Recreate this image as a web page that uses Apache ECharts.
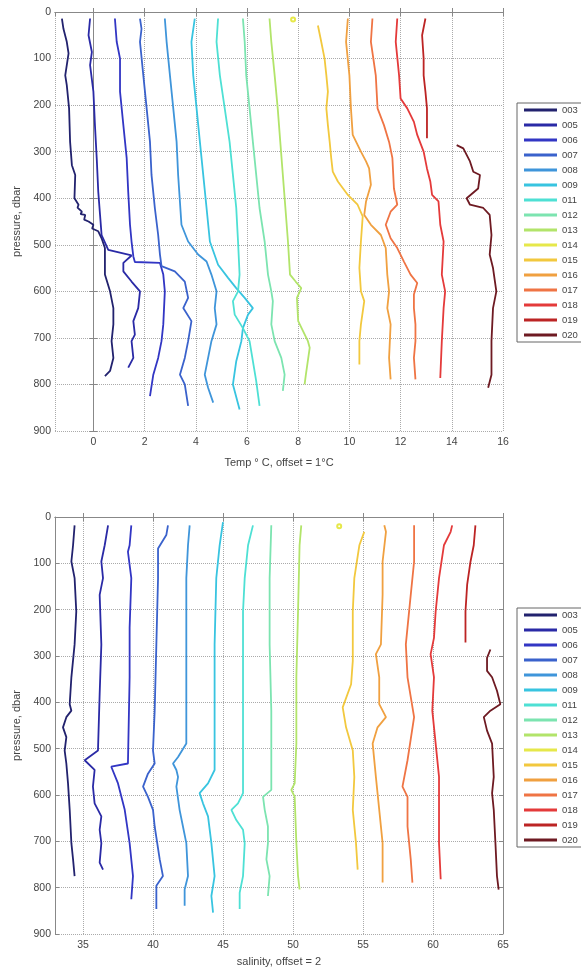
<!DOCTYPE html>
<html>
<head>
<meta charset="utf-8">
<script src="https://cdn.jsdelivr.net/npm/echarts@6/dist/echarts.min.js"></script>
<style>
  html, body { margin: 0; padding: 0; background: #fff; }
  #main { width: 581px; height: 968px; }
</style>
</head>
<body>
<div id="main"></div>
<script>
// float ids, one profile each
var floats = ['003', '005', '006', '007', '008', '009', '011', '012', '013', '014', '015', '016', '017', '018', '019', '020'];

// temperature profiles [T (offset), pressure]
var t003 = [[-1.23,14],[-1.17,36],[-1.04,64],[-0.97,89],[-1.10,136],[-1.04,157],[-0.95,207],[-0.91,279],[-0.84,329],[-0.71,350],[-0.74,400],[-0.58,414],[-0.62,420],[-0.45,429],[-0.50,434],[-0.32,436],[-0.36,446],[-0.19,450],[0,457],[-0.05,465],[0.19,471],[0.32,486],[0.45,507],[0.45,564],[0.65,600],[0.78,636],[0.78,671],[0.71,707],[0.78,743],[0.65,771],[0.45,782]];
var t005 = [[-0.13,14],[-0.19,50],[-0.06,86],[-0.13,114],[0,171],[0.06,243],[0.13,314],[0.19,386],[0.26,436],[0.32,479],[0.58,511],[1.49,523],[1.17,539],[1.17,557],[1.49,579],[1.82,600],[1.75,636],[1.56,664],[1.62,693],[1.49,707],[1.56,743],[1.36,764]];
var t006 = [[0.84,14],[0.91,64],[1.04,100],[1.04,171],[1.17,243],[1.30,314],[1.36,386],[1.43,457],[1.49,493],[1.56,525],[1.62,537],[2.60,539],[2.73,564],[2.79,600],[2.73,671],[2.66,707],[2.53,743],[2.34,779],[2.21,825]];
var t007 = [[1.82,14],[1.88,36],[1.82,64],[1.95,136],[2.08,207],[2.21,279],[2.27,350],[2.40,421],[2.53,479],[2.60,521],[2.66,546],[3.18,557],[3.57,579],[3.70,614],[3.51,636],[3.83,664],[3.70,707],[3.57,743],[3.38,779],[3.57,800],[3.70,846]];
var t008 = [[2.79,14],[2.86,64],[2.99,136],[3.12,207],[3.25,279],[3.31,350],[3.44,457],[3.70,493],[4.09,521],[4.42,536],[4.61,564],[4.81,600],[4.74,636],[4.81,671],[4.61,707],[4.48,743],[4.35,779],[4.48,807],[4.68,839]];
var t009 = [[3.96,14],[3.83,64],[3.90,136],[4.03,207],[4.16,279],[4.29,350],[4.42,421],[4.55,493],[4.87,543],[5.26,571],[5.58,593],[5.91,614],[6.23,636],[6.04,650],[5.84,679],[5.78,707],[5.58,750],[5.45,800],[5.71,854]];
var t011 = [[4.87,14],[4.81,64],[4.94,136],[5.13,207],[5.32,279],[5.45,350],[5.58,421],[5.65,493],[5.71,564],[5.65,600],[5.45,621],[5.52,650],[5.84,679],[6.10,707],[6.23,750],[6.36,793],[6.49,846]];
var t012 = [[5.84,14],[5.91,64],[5.97,136],[6.10,207],[6.23,279],[6.36,350],[6.49,421],[6.69,493],[6.82,564],[6.95,600],[7.01,621],[6.95,671],[7.08,707],[7.34,743],[7.47,779],[7.40,814]];
var t013 = [[6.88,14],[6.95,64],[7.08,136],[7.20,207],[7.30,279],[7.40,350],[7.50,421],[7.60,493],[7.68,564],[7.90,579],[8.12,593],[7.95,614],[8.00,664],[8.38,707],[8.45,721],[8.30,779],[8.25,800]];
var t014 = [[7.8,16]];
var t015 = [[8.77,29],[8.90,64],[9.03,100],[9.10,136],[9.16,171],[9.10,207],[9.16,243],[9.23,279],[9.29,314],[9.35,343],[9.55,364],[9.94,393],[10.32,414],[10.52,439],[10.45,493],[10.39,550],[10.45,600],[10.58,621],[10.45,671],[10.39,707],[10.39,757]];
var t016 = [[9.94,14],[9.87,64],[10.00,136],[10.06,207],[10.13,264],[10.45,300],[10.65,321],[10.77,336],[10.84,371],[10.65,407],[10.58,436],[10.84,457],[11.23,479],[11.42,507],[11.48,564],[11.55,600],[11.48,636],[11.61,671],[11.55,743],[11.61,789]];
var t017 = [[10.90,14],[10.84,64],[11.03,136],[11.10,207],[11.35,243],[11.55,279],[11.68,314],[11.74,379],[11.87,414],[11.61,429],[11.42,457],[11.61,486],[11.87,507],[12.13,536],[12.39,564],[12.65,582],[12.52,607],[12.52,636],[12.58,671],[12.58,707],[12.52,743],[12.58,789]];
var t018 = [[11.87,14],[11.81,64],[11.94,136],[12.00,186],[12.26,207],[12.52,236],[12.65,264],[12.90,300],[13.03,336],[13.16,364],[13.23,393],[13.48,407],[13.55,457],[13.68,493],[13.61,564],[13.74,600],[13.68,636],[13.61,707],[13.55,786]];
var t019 = [[12.97,14],[12.84,50],[12.90,100],[12.90,136],[12.97,171],[13.03,207],[13.03,271]];
var t020 = [[14.19,286],[14.45,293],[14.71,321],[14.84,343],[15.10,350],[15.03,379],[14.58,400],[14.71,414],[15.23,421],[15.48,436],[15.55,479],[15.48,521],[15.61,550],[15.74,600],[15.61,636],[15.55,707],[15.55,779],[15.42,807]];

// salinity profiles [S (offset), pressure]
var s003 = [[34.40,18],[34.29,61],[34.17,96],[34.40,132],[34.52,204],[34.40,275],[34.17,346],[34.05,404],[34.17,418],[33.81,432],[33.57,454],[33.81,475],[33.69,504],[33.81,532],[33.93,575],[34.05,632],[34.17,704],[34.29,739],[34.40,775]];
var s005 = [[36.79,18],[36.55,61],[36.31,96],[36.43,132],[36.19,168],[36.31,275],[36.19,382],[36.07,504],[35.12,525],[35.83,546],[35.71,582],[35.83,618],[36.31,646],[36.19,675],[36.31,704],[36.19,746],[36.43,761]];
var s006 = [[38.45,18],[38.33,61],[38.21,75],[38.45,132],[38.33,239],[38.33,346],[38.21,532],[37.02,539],[37.50,575],[37.98,632],[38.33,704],[38.57,775],[38.45,825]];
var s007 = [[41.07,18],[40.95,39],[40.36,68],[40.36,132],[40.24,275],[40.12,418],[40.00,504],[40.12,532],[39.64,554],[39.29,582],[39.64,604],[40.00,632],[40.12,668],[40.48,739],[40.71,775],[40.24,796],[40.24,846]];
var s008 = [[42.62,18],[42.50,61],[42.38,132],[42.38,275],[42.38,489],[41.79,518],[41.43,532],[41.67,546],[41.79,561],[41.67,582],[41.90,632],[42.14,668],[42.38,704],[42.50,775],[42.26,804],[42.26,839]];
var s009 = [[45.00,11],[44.76,61],[44.52,132],[44.40,275],[44.40,418],[44.40,546],[43.93,575],[43.33,596],[43.57,618],[43.93,646],[44.17,704],[44.40,775],[44.17,818],[44.29,854]];
var s011 = [[47.14,18],[46.79,61],[46.55,132],[46.43,204],[46.43,346],[46.43,596],[46.07,618],[45.60,632],[45.95,654],[46.43,675],[46.55,704],[46.43,775],[46.19,811],[46.19,846]];
var s012 = [[48.45,18],[48.33,132],[48.33,275],[48.45,418],[48.45,589],[47.86,604],[47.98,632],[48.21,668],[48.21,704],[48.10,739],[48.33,775],[48.21,818]];
var s013 = [[50.59,18],[50.47,61],[50.36,204],[50.24,346],[50.24,489],[50.12,575],[49.88,589],[50.12,604],[50.24,704],[50.36,775],[50.47,804]];
var s014 = [[53.3,20]];
var s015 = [[55.09,32],[54.74,61],[54.38,132],[54.27,204],[54.27,311],[54.15,361],[53.55,411],[53.79,454],[54.27,504],[54.38,561],[54.27,632],[54.50,704],[54.62,761]];
var s016 = [[56.52,18],[56.64,32],[56.40,96],[56.40,168],[56.28,275],[55.92,296],[56.16,346],[56.16,404],[56.64,432],[56.04,454],[55.69,489],[55.92,561],[56.16,632],[56.40,704],[56.40,789]];
var s017 = [[58.65,18],[58.65,96],[58.41,168],[58.06,275],[58.18,346],[58.65,432],[58.18,525],[57.82,582],[58.18,604],[58.18,668],[58.41,739],[58.53,789]];
var s018 = [[61.37,18],[61.26,32],[60.78,61],[60.43,132],[60.19,204],[60.07,261],[59.83,296],[60.07,346],[59.95,418],[60.19,489],[60.43,561],[60.43,704],[60.55,782]];
var s019 = [[63.03,18],[62.91,61],[62.68,96],[62.44,146],[62.32,204],[62.32,271]];
var s020 = [[64.10,286],[63.86,304],[63.86,332],[64.22,346],[64.57,375],[64.81,404],[64.10,418],[63.63,432],[63.86,461],[64.22,489],[64.34,561],[64.22,596],[64.34,632],[64.46,704],[64.57,775],[64.69,804]];

var tempData = [t003, t005, t006, t007, t008, t009, t011, t012, t013, t014, t015, t016, t017, t018, t019, t020];
var salData = [s003, s005, s006, s007, s008, s009, s011, s012, s013, s014, s015, s016, s017, s018, s019, s020];

// jet-like colours
var colors = ['#22226e', '#2a2aa6', '#3236c4', '#3a62cc', '#3f95da', '#38c4e0', '#4ee0d4', '#7ce4b0', '#b2e46a', '#e6e84a', '#f2c83e', '#f0a040', '#ef7444', '#e43a3a', '#bc2424', '#6e1a22'];

var font = 'Liberation Sans';
var txt = '#444';

function bottomAxis(grid, min, max, split, name, gap) {
    return {
        type: 'value', gridIndex: grid, position: 'bottom', min: min, max: max, splitNumber: split,
        name: name, nameLocation: 'middle', nameGap: gap,
        nameTextStyle: { fontFamily: font, fontSize: 11, color: txt },
        axisLine: { lineStyle: { color: '#888', width: 1 } },
        axisTick: { inside: true, length: 4, lineStyle: { color: '#888' } },
        axisLabel: { showMinLabel: false, fontFamily: font, fontSize: 10.5, color: txt, margin: 6 },
        splitLine: { show: true, lineStyle: { type: 'dotted', color: '#aaa' } }
    };
}
function topAxis(grid, min, max, split) {
    return {
        type: 'value', gridIndex: grid, position: 'top', min: min, max: max, splitNumber: split,
        axisLine: { lineStyle: { color: '#888', width: 1 } },
        axisTick: { inside: true, length: 4, lineStyle: { color: '#888' } },
        axisLabel: { show: false },
        splitLine: { show: false }
    };
}
function leftAxis(grid) {
    return {
        type: 'value', gridIndex: grid, inverse: true, min: 0, max: 900, interval: 100,
        name: 'pressure, dbar', nameLocation: 'middle', nameGap: 32, nameRotate: 90,
        nameTextStyle: { fontFamily: font, fontSize: 11, color: txt },
        axisLine: { lineStyle: { color: '#888', width: 1 } },
        axisTick: { inside: true, length: 4, lineStyle: { color: '#888' } },
        axisLabel: { fontFamily: font, fontSize: 10.5, color: txt, margin: 4 },
        splitLine: { show: true, lineStyle: { type: 'dotted', color: '#aaa' } }
    };
}
function rightAxis(grid) {
    return {
        type: 'value', gridIndex: grid, position: 'right', inverse: true, min: 0, max: 900, interval: 100,
        axisLine: { lineStyle: { color: '#888', width: 1 } },
        axisTick: { inside: true, length: 4, lineStyle: { color: '#888' } },
        axisLabel: { show: false },
        splitLine: { show: false }
    };
}
function legend(top) {
    return {
        orient: 'vertical', left: 517, top: top,
        data: floats, icon: 'rect', itemWidth: 33, itemHeight: 3, itemGap: 5,
        padding: [2, 24, 2, 7], borderColor: '#666', borderWidth: 1,
        backgroundColor: '#fff',
        textStyle: { fontFamily: font, fontSize: 9.5, color: txt, lineHeight: 10 }
    };
}

var series = [];
floats.forEach(function (id, i) {
    var single = tempData[i].length === 1;
    series.push({
        name: id, type: 'line', xAxisIndex: 0, yAxisIndex: 0,
        data: tempData[i], showSymbol: single, symbolSize: 4,
        lineStyle: { width: 1.8, color: colors[i] }, itemStyle: { color: colors[i] }
    });
    series.push({
        name: id, type: 'line', xAxisIndex: 1, yAxisIndex: 1,
        data: salData[i], showSymbol: single, symbolSize: 4,
        lineStyle: { width: 1.8, color: colors[i] }, itemStyle: { color: colors[i] }
    });
});

var chart = echarts.init(document.getElementById('main'));
chart.setOption({
    animation: false,
    backgroundColor: '#fff',
    grid: [
        { left: 55, top: 12, right: 78, height: 419 },
        { left: 55, top: 517, right: 78, height: 421 }
    ],
    xAxis: [
        bottomAxis(0, -1.5, 16, 9, 'Temp \u00b0 C, offset = 1\u00b0C', 26),
        bottomAxis(1, 33, 65, 6, 'salinity, offset = 2', 22),
        topAxis(0, -1.5, 16, 9),
        topAxis(1, 33, 65, 6)
    ],
    yAxis: [leftAxis(0), leftAxis(1), rightAxis(0), rightAxis(1)],
    legend: [legend(103), legend(608)],
    series: series
});
</script>
</body>
</html>
